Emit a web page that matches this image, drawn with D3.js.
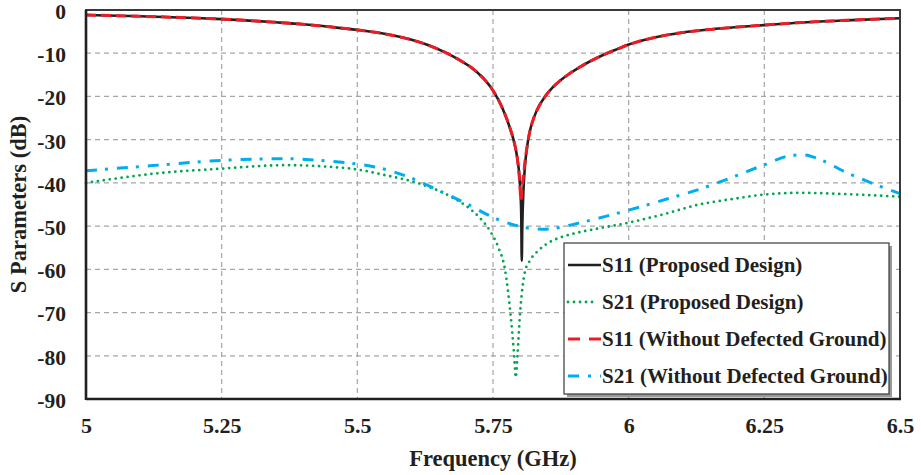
<!DOCTYPE html>
<html>
<head>
<meta charset="utf-8">
<script src="https://cdn.jsdelivr.net/npm/d3@7/dist/d3.min.js"></script>
<style>
  html, body { margin: 0; padding: 0; background: #fff; }
  svg { display: block; }
  text { font-family: "Liberation Serif", "Times New Roman", serif; font-weight: bold; fill: #231f20; }
</style>
</head>
<body>
<svg id="chart" width="921" height="475"></svg>
<script>
// Frequency (GHz) / magnitude (dB) pairs for each trace
const s11Proposed = [
  [5.00, -1.15], [5.10, -1.45], [5.20, -1.85], [5.25, -2.1], [5.30, -2.45], [5.35, -2.85],
  [5.40, -3.3], [5.45, -3.9], [5.50, -4.6], [5.55, -5.5], [5.60, -6.9], [5.63, -8.1],
  [5.66, -9.7], [5.69, -11.7], [5.71, -13.3], [5.73, -15.5], [5.745, -17.7], [5.76, -20.8],
  [5.772, -24.1], [5.782, -27.6], [5.789, -30.6], [5.795, -34.5], [5.799, -39], [5.802, -47],
  [5.803, -58], [5.804, -50], [5.806, -42], [5.809, -36], [5.813, -31.5], [5.818, -28],
  [5.825, -25], [5.835, -22.2], [5.846, -20], [5.86, -17.9], [5.875, -16.2], [5.89, -14.8],
  [5.91, -13.2], [5.93, -11.8], [5.955, -10.3], [5.98, -9.0], [6.00, -8.0], [6.05, -6.3],
  [6.10, -5.2], [6.15, -4.5], [6.20, -3.95], [6.25, -3.5], [6.30, -3.05], [6.40, -2.4],
  [6.50, -1.9]
];
const s21Proposed = [
  [5.00, -40], [5.06, -38.9], [5.123, -37.9], [5.25, -36.7], [5.37, -35.9], [5.45, -36.3],
  [5.50, -36.9], [5.547, -38.1], [5.61, -40], [5.671, -43.1], [5.70, -45.3], [5.725, -48],
  [5.745, -51.2], [5.76, -55], [5.772, -60], [5.782, -70], [5.789, -80], [5.792, -85],
  [5.795, -80], [5.800, -70], [5.809, -60.5], [5.818, -58], [5.835, -55.5], [5.853, -53.8],
  [5.875, -52.6], [5.90, -51.7], [5.946, -50.5], [6.00, -49.2], [6.069, -47.1], [6.13, -45],
  [6.193, -43.7], [6.25, -42.7], [6.316, -42.3], [6.40, -42.6], [6.50, -43.2]
];
const s11NoDgs = [
  [5.00, -1.15], [5.10, -1.45], [5.20, -1.85], [5.25, -2.1], [5.30, -2.45], [5.35, -2.85],
  [5.40, -3.3], [5.45, -3.9], [5.50, -4.6], [5.55, -5.5], [5.60, -6.9], [5.63, -8.1],
  [5.66, -9.7], [5.69, -11.7], [5.71, -13.3], [5.73, -15.5], [5.745, -17.7], [5.76, -20.8],
  [5.772, -24.1], [5.782, -27.6], [5.789, -30.6], [5.795, -34.5], [5.799, -39.5], [5.8015, -44],
  [5.804, -40.5], [5.806, -38.5], [5.809, -35], [5.813, -31.5], [5.818, -28],
  [5.825, -25], [5.835, -22.2], [5.846, -20], [5.86, -17.9], [5.875, -16.2], [5.89, -14.8],
  [5.91, -13.2], [5.93, -11.8], [5.955, -10.3], [5.98, -9.0], [6.00, -8.0], [6.05, -6.3],
  [6.10, -5.2], [6.15, -4.5], [6.20, -3.95], [6.25, -3.5], [6.30, -3.05], [6.40, -2.4],
  [6.50, -1.9]
];
const s21NoDgs = [
  [5.00, -37.2], [5.123, -36], [5.25, -34.8], [5.369, -34.4], [5.43, -34.8], [5.485, -35.4],
  [5.539, -36.5], [5.594, -38.6], [5.649, -41.7], [5.701, -44.8], [5.756, -48.3],
  [5.812, -50.4], [5.841, -50.7], [5.87, -50.4], [5.898, -49.6], [5.959, -47.7],
  [6.00, -46.3], [6.069, -43.8], [6.13, -41.5], [6.193, -38.6], [6.25, -35.8],
  [6.294, -33.8], [6.322, -33.5], [6.353, -34.6], [6.396, -37.3], [6.439, -39.6], [6.50, -42.5]
];

const xTicks = [5, 5.25, 5.5, 5.75, 6, 6.25, 6.5];
const yTicks = [0, -10, -20, -30, -40, -50, -60, -70, -80, -90];

const seriesNames = [
  "S11 (Proposed Design)",
  "S21 (Proposed Design)",
  "S11 (Without Defected Ground)",
  "S21 (Without Defected Ground)"
];

const styles = [
  { color: "#231f20", width: 2.6, dash: null, cap: "butt" },
  { color: "#00a651", width: 2.8, dash: "0,6", cap: "round" },
  { color: "#ed1c24", width: 3, dash: "10,5", cap: "butt" },
  { color: "#00aeef", width: 3, dash: "11,8,3,9", cap: "butt" }
];

const svg = d3.select("#chart");
const m = { left: 86, right: 900, top: 10, bottom: 399 };

const x = d3.scaleLinear().domain([5, 6.5]).range([m.left, m.right]);
const y = d3.scaleLinear().domain([-90, 0]).range([m.bottom, m.top]);

// grid
const grid = svg.append("g");
grid.selectAll("line.h").data(yTicks.filter(d => d !== 0 && d !== -90)).join("line")
  .attr("x1", m.left).attr("x2", m.right)
  .attr("y1", d => y(d)).attr("y2", d => y(d))
  .attr("stroke", "#a6a6a6").attr("stroke-width", 1.2).attr("stroke-dasharray", "5,4");
grid.selectAll("line.v").data(xTicks.filter(d => d !== 5 && d !== 6.5)).join("line")
  .attr("y1", m.top).attr("y2", m.bottom)
  .attr("x1", d => x(d)).attr("x2", d => x(d))
  .attr("stroke", "#a6a6a6").attr("stroke-width", 1.2).attr("stroke-dasharray", "5,4");

// traces
const line = d3.line().x(d => x(d[0])).y(d => y(d[1])).curve(d3.curveMonotoneX);
const data = [s11Proposed, s21Proposed, s11NoDgs, s21NoDgs];
const drawOrder = [1, 3, 0, 2];
drawOrder.forEach(i => {
  const s = styles[i];
  svg.append("path").datum(data[i])
    .attr("d", line)
    .attr("fill", "none")
    .attr("stroke", s.color)
    .attr("stroke-width", s.width)
    .attr("stroke-linecap", s.cap)
    .attr("stroke-linejoin", "round")
    .attr("stroke-dasharray", s.dash);
});

// frame
svg.append("rect")
  .attr("x", m.left).attr("y", m.top)
  .attr("width", m.right - m.left).attr("height", m.bottom - m.top)
  .attr("fill", "none").attr("stroke", "#3a3a3a").attr("stroke-width", 2);
svg.append("line").attr("x1", m.left).attr("x2", m.left).attr("y1", m.top).attr("y2", m.bottom + 1)
  .attr("stroke", "#231f20").attr("stroke-width", 2.6);
svg.append("line").attr("x1", m.left).attr("x2", m.right + 1).attr("y1", m.bottom).attr("y2", m.bottom)
  .attr("stroke", "#231f20").attr("stroke-width", 2.6);

// axes (labels only, frame drawn above)
const xAxis = d3.axisBottom(x).tickValues(xTicks).tickSize(0).tickPadding(18)
  .tickFormat(d => String(d));
const gx = svg.append("g").attr("transform", `translate(0,${m.bottom})`).call(xAxis);
gx.select(".domain").remove();
gx.selectAll("text").attr("font-size", 22).attr("fill", "#231f20")
  .style("font-family", "'Liberation Serif', serif").style("font-weight", "bold");

const yAxis = d3.axisLeft(y).tickValues(yTicks).tickSize(0).tickPadding(20)
  .tickFormat(d => String(d));
const gy = svg.append("g").attr("transform", `translate(${m.left},1.5)`).call(yAxis);
gy.select(".domain").remove();
gy.selectAll("text").attr("font-size", 21.5).attr("fill", "#231f20")
  .style("font-family", "'Liberation Serif', serif").style("font-weight", "bold");

// axis titles
svg.append("text").attr("x", (m.left + m.right) / 2).attr("y", 466)
  .attr("text-anchor", "middle").attr("font-size", 22.5).text("Frequency (GHz)");
svg.append("text").attr("transform", `translate(26,${(m.top + m.bottom) / 2}) rotate(-90)`)
  .attr("text-anchor", "middle").attr("font-size", 22.5).text("S Parameters (dB)");

// legend
const lg = svg.append("g").attr("transform", "translate(564,243)");
lg.append("rect").attr("x", 3).attr("y", 3).attr("width", 325).attr("height", 151).attr("fill", "#9a9a9a");
lg.append("rect").attr("x", 0).attr("y", 0).attr("width", 325).attr("height", 151)
  .attr("fill", "#fff").attr("stroke", "#3a3a3a").attr("stroke-width", 1.2);
seriesNames.forEach((name, i) => {
  const cy = 22 + i * 37;
  const s = styles[i];
  const len = i === 1 ? 26 : 33;
  lg.append("line").attr("x1", 4).attr("x2", 4 + len).attr("y1", cy).attr("y2", cy)
    .attr("stroke", s.color).attr("stroke-width", s.width)
    .attr("stroke-linecap", s.cap)
    .attr("stroke-dasharray", i === 2 ? "12,9" : (i === 3 ? "11,9,3,9" : s.dash));
  lg.append("text").attr("x", 38).attr("y", cy + 7).attr("font-size", 21).text(name);
});
</script>
</body>
</html>
